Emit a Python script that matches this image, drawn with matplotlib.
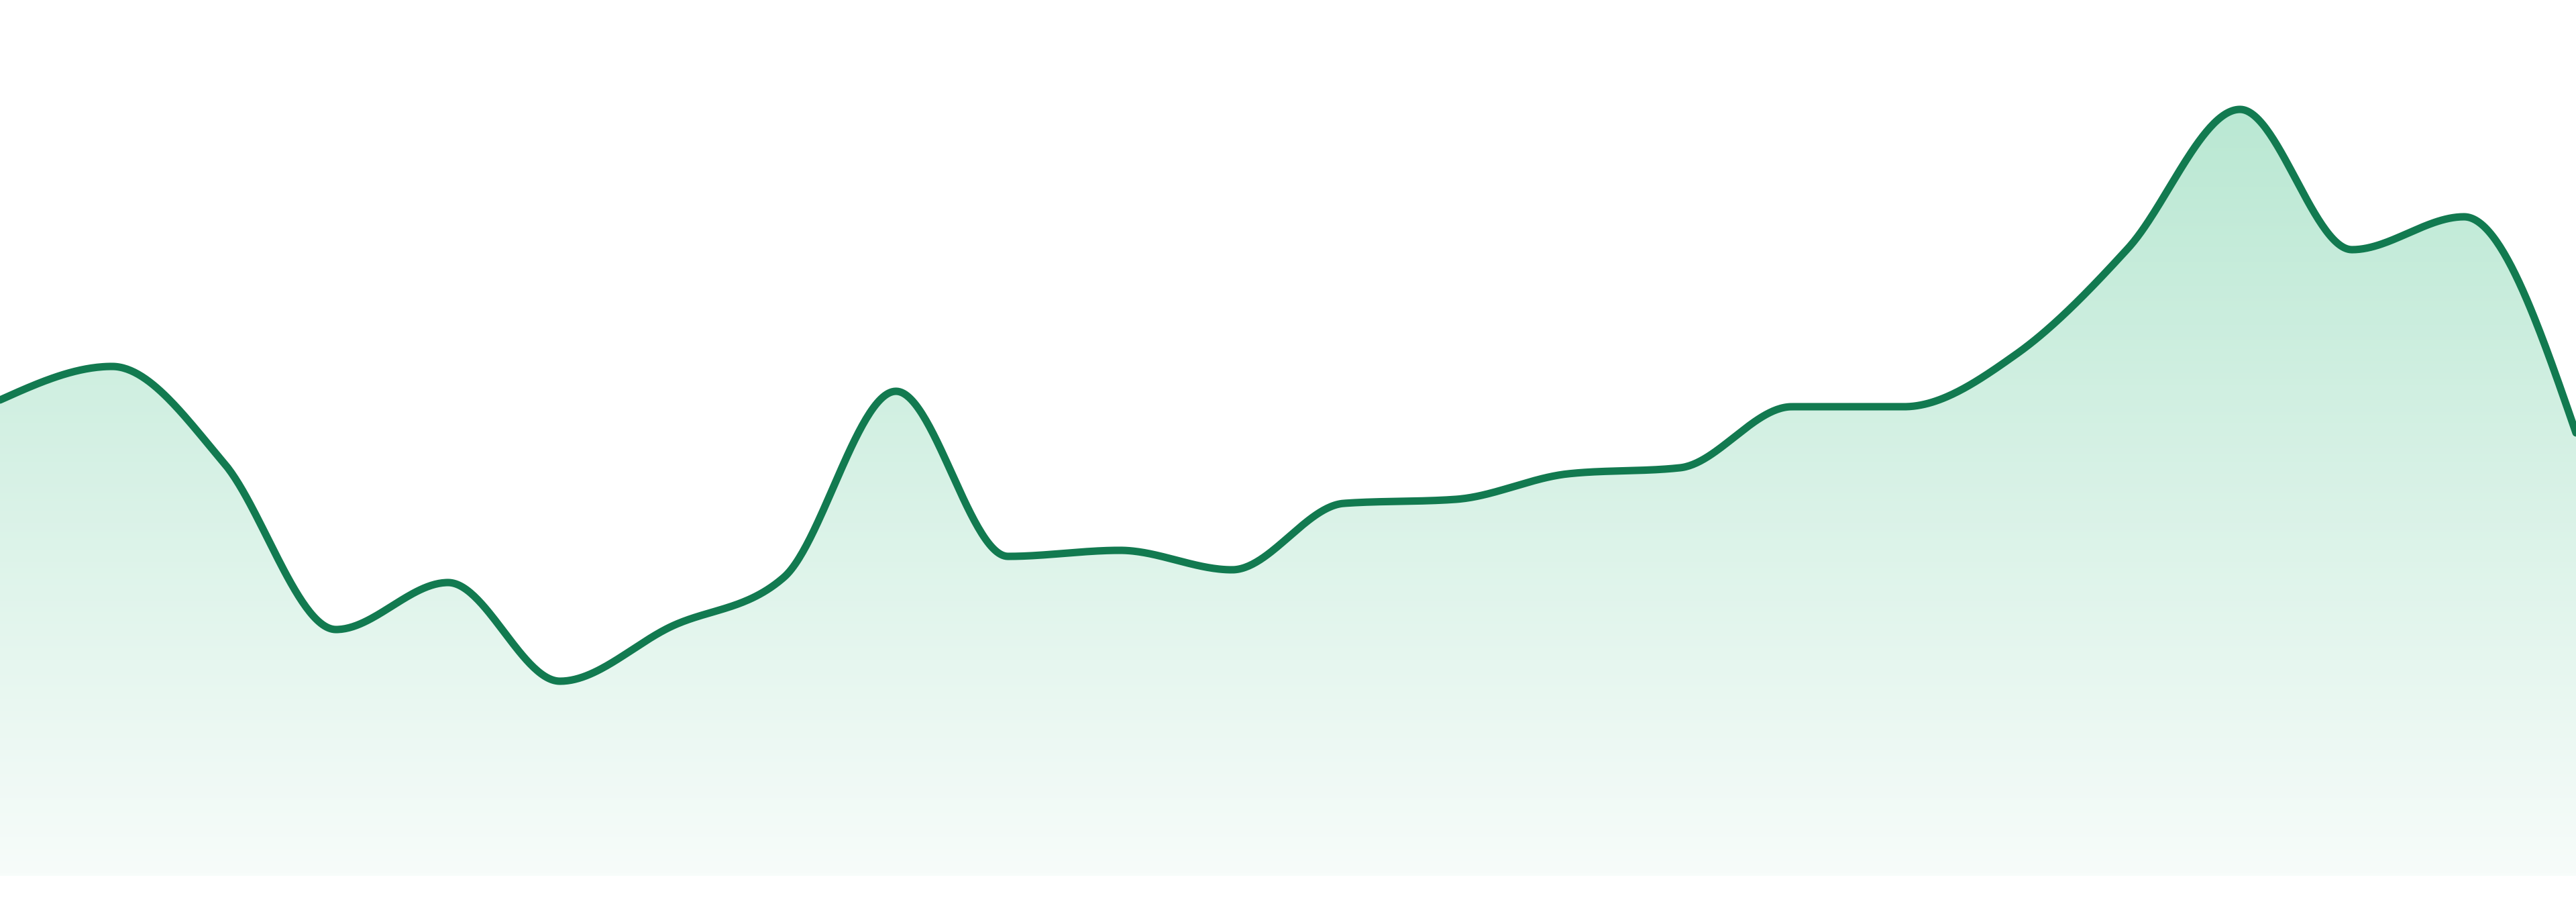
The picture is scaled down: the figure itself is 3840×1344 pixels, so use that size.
import numpy as np
import matplotlib
matplotlib.use("Agg")
import matplotlib.pyplot as plt
from matplotlib.colors import LinearSegmentedColormap

# series values (one point per step)
steps = list(range(24))
values = [709, 759, 615, 367, 437, 290, 372, 445, 722, 476, 485, 456,
          555, 561, 599, 608, 699, 699, 777, 935, 1142, 933, 982, 660]

line_color = "#127a50"
fill_top = "#bae8d3"
fill_bottom = "#f7fcfa"


def monotone_curve(x, y, n=60):
    # monotone cubic (same rule as d3 curveMonotoneX)
    x = np.asarray(x, float)
    y = np.asarray(y, float)
    h = np.diff(x)
    s = np.diff(y) / h
    t = np.zeros_like(y)
    for i in range(1, len(y) - 1):
        p = (s[i - 1] * h[i] + s[i] * h[i - 1]) / (h[i - 1] + h[i])
        t[i] = (np.sign(s[i - 1]) + np.sign(s[i])) * min(abs(s[i - 1]), abs(s[i]), 0.5 * abs(p))
    t[0] = (3 * s[0] - t[1]) / 2
    t[-1] = (3 * s[-1] - t[-2]) / 2
    xs, ys = [], []
    for i in range(len(h)):
        u = np.linspace(0, 1, n, endpoint=(i == len(h) - 1))
        h00 = 2 * u**3 - 3 * u**2 + 1
        h10 = u**3 - 2 * u**2 + u
        h01 = -2 * u**3 + 3 * u**2
        h11 = u**3 - u**2
        xs.append(x[i] + u * h[i])
        ys.append(h00 * y[i] + h10 * h[i] * t[i] + h01 * y[i + 1] + h11 * h[i] * t[i + 1])
    return np.concatenate(xs), np.concatenate(ys)


fig = plt.figure(figsize=(38.4, 13.44), dpi=100)
ax = fig.add_axes([0, 39 / 1344, 1, 1305 / 1344])
ax.set_xlim(steps[0], steps[-1])
ax.set_ylim(0, 1305)
ax.axis("off")

cx, cy = monotone_curve(steps, values)

# gradient area under the curve
area = ax.fill_between(cx, cy, 0, color="none", lw=0)
cmap = LinearSegmentedColormap.from_list("g", [fill_bottom, fill_top])
grad = np.linspace(0, 1, 256).reshape(-1, 1)
img = ax.imshow(grad, cmap=cmap, aspect="auto", origin="lower",
                extent=[steps[0], steps[-1], 0, max(values)], zorder=1)
img.set_clip_path(area.get_paths()[0], transform=ax.transData)

ax.plot(cx, cy, color=line_color, lw=8, solid_capstyle="round", zorder=3)

fig.savefig("out.png", dpi=100, facecolor="white")
